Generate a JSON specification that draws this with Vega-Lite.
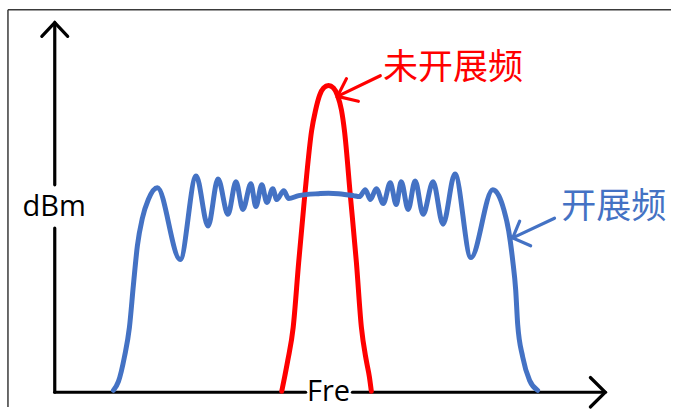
{
  "$schema": "https://vega.github.io/schema/vega-lite/v6.json",
  "width": 674,
  "height": 414,
  "autosize": {"type": "fit", "contains": "padding"},
  "padding": 0,
  "background": "white",
  "config": {"view": {"stroke": null}},
  "datasets": {
    "frame": [
      {"g": "top", "o": 1, "f": -47, "p": 389},
      {"g": "top", "o": 2, "f": 619, "p": 389},
      {"g": "left", "o": 1, "f": -47, "p": 389},
      {"g": "left", "o": 2, "f": -47, "p": -15}
    ],
    "axes": [
      {"g": "y1", "o": 1, "f": 0, "p": 0},
      {"g": "y1", "o": 2, "f": 0, "p": 167},
      {"g": "y2", "o": 1, "f": 0, "p": 211},
      {"g": "y2", "o": 2, "f": 0, "p": 376},
      {"g": "ya", "o": 1, "f": -13, "p": 362},
      {"g": "ya", "o": 2, "f": 0, "p": 376},
      {"g": "ya", "o": 3, "f": 13, "p": 362},
      {"g": "x1", "o": 1, "f": 0, "p": 0},
      {"g": "x1", "o": 2, "f": 252, "p": 0},
      {"g": "x2", "o": 1, "f": 299, "p": 0},
      {"g": "x2", "o": 2, "f": 553, "p": 0},
      {"g": "xa", "o": 1, "f": 538, "p": 15},
      {"g": "xa", "o": 2, "f": 553, "p": 0},
      {"g": "xa", "o": 3, "f": 538, "p": -15}
    ],
    "curves": [
      {"s": "未开展频", "f": 228, "p": 1},
      {"s": "未开展频", "f": 231, "p": 16},
      {"s": "未开展频", "f": 234, "p": 32},
      {"s": "未开展频", "f": 239.5, "p": 66},
      {"s": "未开展频", "f": 245, "p": 132},
      {"s": "未开展频", "f": 251, "p": 199},
      {"s": "未开展频", "f": 258, "p": 266},
      {"s": "未开展频", "f": 262, "p": 287},
      {"s": "未开展频", "f": 266, "p": 302},
      {"s": "未开展频", "f": 270, "p": 309.5},
      {"s": "未开展频", "f": 275, "p": 312},
      {"s": "未开展频", "f": 280, "p": 309.5},
      {"s": "未开展频", "f": 284, "p": 302},
      {"s": "未开展频", "f": 288, "p": 287},
      {"s": "未开展频", "f": 291, "p": 266},
      {"s": "未开展频", "f": 297, "p": 199},
      {"s": "未开展频", "f": 303, "p": 132},
      {"s": "未开展频", "f": 308, "p": 66},
      {"s": "未开展频", "f": 313, "p": 32},
      {"s": "未开展频", "f": 316, "p": 16},
      {"s": "未开展频", "f": 318, "p": 1},
      {"s": "开展频", "f": 59, "p": 2},
      {"s": "开展频", "f": 64, "p": 11},
      {"s": "开展频", "f": 70, "p": 36},
      {"s": "开展频", "f": 75, "p": 66},
      {"s": "开展频", "f": 79, "p": 109},
      {"s": "开展频", "f": 83, "p": 149},
      {"s": "开展频", "f": 88, "p": 177},
      {"s": "开展频", "f": 94, "p": 196},
      {"s": "开展频", "f": 103, "p": 208},
      {"s": "开展频", "f": 126, "p": 135},
      {"s": "开展频", "f": 142, "p": 220},
      {"s": "开展频", "f": 154, "p": 169},
      {"s": "开展频", "f": 164, "p": 217},
      {"s": "开展频", "f": 174, "p": 181},
      {"s": "开展频", "f": 182, "p": 214},
      {"s": "开展频", "f": 189, "p": 186},
      {"s": "开展频", "f": 197, "p": 212},
      {"s": "开展频", "f": 202, "p": 189},
      {"s": "开展频", "f": 208, "p": 211},
      {"s": "开展频", "f": 213, "p": 193},
      {"s": "开展频", "f": 219, "p": 207},
      {"s": "开展频", "f": 223, "p": 196},
      {"s": "开展频", "f": 230, "p": 205},
      {"s": "开展频", "f": 235, "p": 197},
      {"s": "开展频", "f": 245, "p": 200},
      {"s": "开展频", "f": 265, "p": 202},
      {"s": "开展频", "f": 275, "p": 202.5},
      {"s": "开展频", "f": 285, "p": 202},
      {"s": "开展频", "f": 300, "p": 200},
      {"s": "开展频", "f": 306, "p": 199},
      {"s": "开展频", "f": 312, "p": 206},
      {"s": "开展频", "f": 317, "p": 196},
      {"s": "开展频", "f": 323, "p": 207},
      {"s": "开展频", "f": 330, "p": 192},
      {"s": "开展频", "f": 337, "p": 213},
      {"s": "开展频", "f": 343, "p": 191},
      {"s": "开展频", "f": 348, "p": 214},
      {"s": "开展频", "f": 355, "p": 186},
      {"s": "开展频", "f": 362, "p": 215},
      {"s": "开展频", "f": 370, "p": 181},
      {"s": "开展频", "f": 380, "p": 214},
      {"s": "开展频", "f": 390, "p": 171},
      {"s": "开展频", "f": 402, "p": 222},
      {"s": "开展频", "f": 418, "p": 137},
      {"s": "开展频", "f": 440, "p": 206},
      {"s": "开展频", "f": 446, "p": 200},
      {"s": "开展频", "f": 451, "p": 186},
      {"s": "开展频", "f": 456, "p": 164},
      {"s": "开展频", "f": 460, "p": 134},
      {"s": "开展频", "f": 463, "p": 104},
      {"s": "开展频", "f": 465, "p": 69},
      {"s": "开展频", "f": 470, "p": 36},
      {"s": "开展频", "f": 477, "p": 12},
      {"s": "开展频", "f": 485, "p": 2}
    ],
    "pointers": [
      {"s": "未开展频", "g": "r1", "o": 1, "f": 327, "p": 322},
      {"s": "未开展频", "g": "r1", "o": 2, "f": 284, "p": 301},
      {"s": "未开展频", "g": "r2", "o": 1, "f": 293, "p": 319},
      {"s": "未开展频", "g": "r2", "o": 2, "f": 284, "p": 301},
      {"s": "未开展频", "g": "r2", "o": 3, "f": 305, "p": 296},
      {"s": "开展频", "g": "b1", "o": 1, "f": 502, "p": 177},
      {"s": "开展频", "g": "b1", "o": 2, "f": 460, "p": 157},
      {"s": "开展频", "g": "b2", "o": 1, "f": 467, "p": 174},
      {"s": "开展频", "g": "b2", "o": 2, "f": 460, "p": 157},
      {"s": "开展频", "g": "b2", "o": 3, "f": 478, "p": 149}
    ],
    "axisTitles": [
      {"t": "dBm", "f": -0.5, "p": 179},
      {"t": "Fre", "f": 275, "p": -9}
    ],
    "labels": [
      {"s": "未开展频", "t": "未开展频", "f": 400, "p": 330},
      {"s": "开展频", "t": "开展频", "f": 561.5, "p": 188}
    ]
  },
  "layer": [
    {
      "data": {"name": "frame"},
      "mark": {"type": "line", "stroke": "#3a3a3a", "strokeWidth": 1.5},
      "encoding": {
        "x": {"field": "f", "type": "quantitative", "scale": {"domain": [-55, 619], "nice": false, "zero": false}, "axis": null},
        "y": {"field": "p", "type": "quantitative", "scale": {"domain": [-15, 399], "nice": false, "zero": false}, "axis": null},
        "detail": {"field": "g"},
        "order": {"field": "o"}
      }
    },
    {
      "data": {"name": "axes"},
      "mark": {"type": "line", "stroke": "#000000", "strokeWidth": 3.2, "strokeCap": "round", "strokeJoin": "miter"},
      "encoding": {
        "x": {"field": "f", "type": "quantitative", "scale": {"domain": [-55, 619], "nice": false, "zero": false}, "axis": null},
        "y": {"field": "p", "type": "quantitative", "scale": {"domain": [-15, 399], "nice": false, "zero": false}, "axis": null},
        "detail": {"field": "g"},
        "order": {"field": "o"}
      }
    },
    {
      "data": {"name": "curves"},
      "mark": {"type": "line", "strokeWidth": 5, "interpolate": "monotone", "strokeCap": "round"},
      "encoding": {
        "x": {"field": "f", "type": "quantitative", "scale": {"domain": [-55, 619], "nice": false, "zero": false}, "axis": null},
        "y": {"field": "p", "type": "quantitative", "scale": {"domain": [-15, 399], "nice": false, "zero": false}, "axis": null},
        "color": {"field": "s", "type": "nominal", "scale": {"domain": ["开展频", "未开展频"], "range": ["#4472C4", "#FF0000"]}, "legend": null}
      }
    },
    {
      "data": {"name": "pointers"},
      "mark": {"type": "line", "strokeWidth": 3.2, "strokeCap": "round", "strokeJoin": "miter"},
      "encoding": {
        "x": {"field": "f", "type": "quantitative", "scale": {"domain": [-55, 619], "nice": false, "zero": false}, "axis": null},
        "y": {"field": "p", "type": "quantitative", "scale": {"domain": [-15, 399], "nice": false, "zero": false}, "axis": null},
        "color": {"field": "s", "type": "nominal", "scale": {"domain": ["开展频", "未开展频"], "range": ["#4472C4", "#FF0000"]}, "legend": null},
        "detail": {"field": "g"},
        "order": {"field": "o"}
      }
    },
    {
      "data": {"name": "axisTitles"},
      "mark": {"type": "text", "font": "Open Sans", "fontSize": 29, "align": "center", "baseline": "alphabetic", "color": "#000000"},
      "encoding": {
        "x": {"field": "f", "type": "quantitative", "scale": {"domain": [-55, 619], "nice": false, "zero": false}, "axis": null},
        "y": {"field": "p", "type": "quantitative", "scale": {"domain": [-15, 399], "nice": false, "zero": false}, "axis": null},
        "text": {"field": "t"}
      }
    },
    {
      "data": {"name": "labels"},
      "mark": {"type": "text", "font": "Noto Sans CJK SC", "fontSize": 35, "align": "center", "baseline": "middle"},
      "encoding": {
        "x": {"field": "f", "type": "quantitative", "scale": {"domain": [-55, 619], "nice": false, "zero": false}, "axis": null},
        "y": {"field": "p", "type": "quantitative", "scale": {"domain": [-15, 399], "nice": false, "zero": false}, "axis": null},
        "text": {"field": "t"},
        "color": {"field": "s", "type": "nominal", "scale": {"domain": ["开展频", "未开展频"], "range": ["#4472C4", "#FF0000"]}, "legend": null}
      }
    }
  ]
}
